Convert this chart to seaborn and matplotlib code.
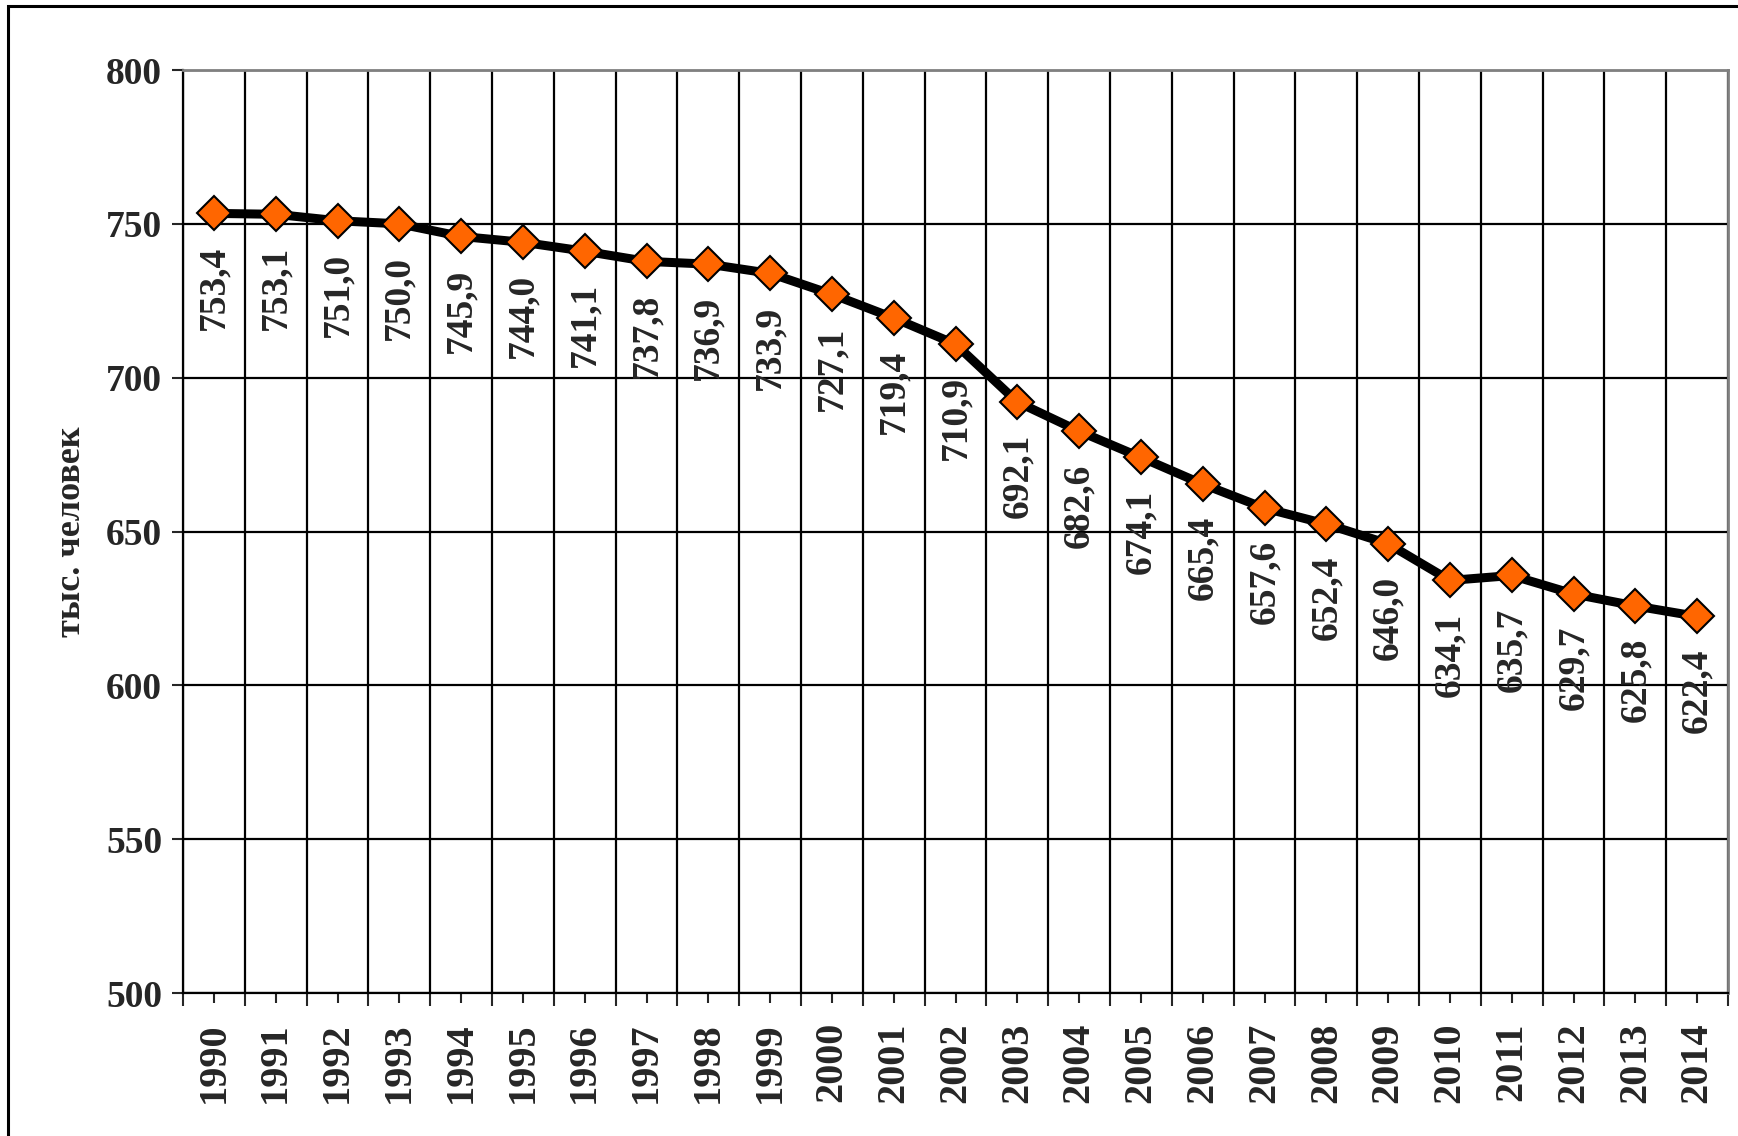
import numpy as np
import pandas as pd
import seaborn as sns
import matplotlib.pyplot as plt
from matplotlib.patches import Rectangle
from matplotlib.ticker import FixedLocator

years = [1990, 1991, 1992, 1993, 1994, 1995, 1996, 1997, 1998, 1999, 2000, 2001, 2002,
         2003, 2004, 2005, 2006, 2007, 2008, 2009, 2010, 2011, 2012, 2013, 2014]
population = [753.4, 753.1, 751.0, 750.0, 745.9, 744.0, 741.1, 737.8, 736.9, 733.9,
              727.1, 719.4, 710.9, 692.1, 682.6, 674.1, 665.4, 657.6, 652.4, 646.0,
              634.1, 635.7, 629.7, 625.8, 622.4]
y_label = 'тыс. человек'

sns.set_style('white')
plt.rcParams['font.family'] = 'serif'
plt.rcParams['font.serif'] = ['Liberation Serif', 'DejaVu Serif']
plt.rcParams['font.weight'] = 'bold'

data = pd.DataFrame({'pos': np.arange(len(years)), 'year': years, 'value': population})

fig = plt.figure(figsize=(17.38, 11.36), dpi=100)
ax = fig.add_axes([183 / 1738, 1 - 993 / 1136, (1728 - 183) / 1738, (993 - 70) / 1136])

sns.lineplot(x='pos', y='value', data=data, ax=ax, color='black', lw=6.5,
             marker='D', markersize=17, markerfacecolor='#FF6600',
             markeredgecolor='black', markeredgewidth=1.5, zorder=5)

# подписи значений под точками
for xi, v in zip(data.pos, data.value):
    ax.annotate(f'{v:.1f}'.replace('.', ','), (xi, v), xytext=(0, -23),
                textcoords='offset points', rotation=90, ha='center', va='top',
                fontsize=27, fontweight='bold', zorder=6)

ax.set_xlim(-0.5, len(years) - 0.5)
ax.set_ylim(500, 800)
ax.set_yticks(np.arange(500, 801, 50))
ax.set_xticks(data.pos)
ax.set_xticklabels(years, rotation=90, fontsize=29, fontweight='bold')
ax.xaxis.set_minor_locator(FixedLocator(np.arange(-0.5, len(years), 1.0)))
ax.tick_params(axis='y', labelsize=27, direction='out', length=8, width=1.5, left=True, pad=7)
ax.tick_params(axis='x', which='major', direction='out', length=7, width=1.5, bottom=True, pad=14)
ax.tick_params(axis='x', which='minor', direction='out', length=9, width=1.5, bottom=True)
for lbl in ax.get_yticklabels():
    lbl.set_fontweight('bold')

ax.grid(axis='y', which='major', color='black', lw=1.6)
ax.grid(axis='x', which='minor', color='black', lw=1.6)
ax.grid(axis='x', which='major', visible=False)
ax.set_axisbelow(True)

for side in ['left', 'bottom']:
    ax.spines[side].set_color('black')
    ax.spines[side].set_linewidth(1.6)
for side in ['top', 'right']:
    ax.spines[side].set_color('#808080')
    ax.spines[side].set_linewidth(2)

ax.set_xlabel('')
ax.set_ylabel(y_label, fontsize=26, fontweight='bold')
ax.yaxis.label.set_va('center')
ax.yaxis.set_label_coords((72 - 183) / 1545, 0.5)

fig.add_artist(Rectangle((8 / 1738, -0.5), 2, 0.5 + 1 - 6 / 1136, transform=fig.transFigure,
                         fill=False, edgecolor='black', lw=2.2))

fig.savefig('out.png', dpi=100)
